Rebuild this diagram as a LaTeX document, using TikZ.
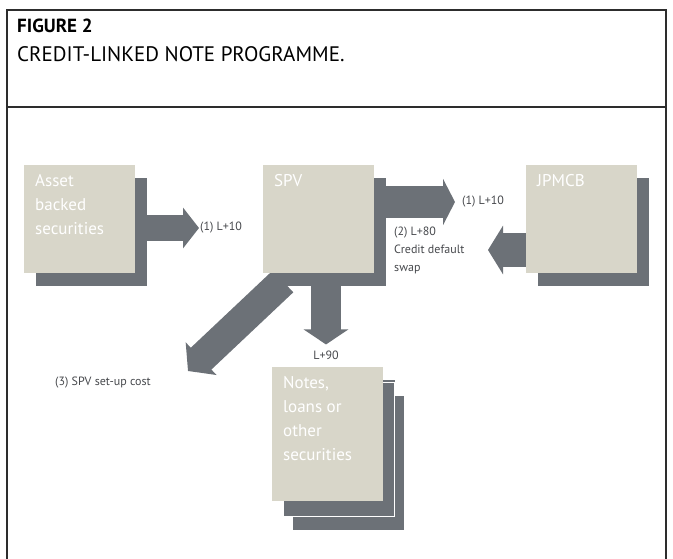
\documentclass[tikz,border=0pt]{standalone}
\usepackage{fontspec}
\setmainfont{PT Sans}
\usetikzlibrary{arrows.meta,shadows,backgrounds}
\definecolor{boxbeige}{RGB}{216,214,201}
\definecolor{arrowgray}{RGB}{108,113,119}
\definecolor{labgray}{RGB}{70,72,76}
\definecolor{framegray}{RGB}{45,45,45}
\tikzset{
  sheet/.style={fill=boxbeige, minimum width=111pt, minimum height=108pt, anchor=north west, inner sep=0pt,
    drop shadow={shadow xshift=12pt, shadow yshift=-13pt, fill=arrowgray, opacity=1}},
  boxtext/.style={anchor=north west, text=white, align=left, font=\fontsize{17}{24}\selectfont, inner xsep=11pt, inner ysep=9pt},
  lab/.style={text=labgray, font=\fontsize{12}{18}\selectfont, inner sep=1pt, align=left},
  fat/.style={draw=arrowgray, line width=#1}
}
\begin{document}
\begin{tikzpicture}[x=1pt,y=-1pt]
\useasboundingbox (0,0) rectangle (673,559);
\draw[framegray, line width=1.4pt] (7,560) -- (7,10) -- (666,10) -- (666,560);
\draw[framegray, line width=1.4pt] (7,107) -- (666,107);
\node[anchor=north west, inner sep=0pt, font=\fontsize{19}{22}\bfseries\selectfont] at (17,19) (fig) {FIGURE 2};
\node[anchor=north west, inner sep=0pt, font=\fontsize{21}{24}\selectfont] at (17,46) (title) {CREDIT-LINKED NOTE PROGRAMME.};

   \node[sheet, label={[boxtext]north west:Asset\\backed\\securities}] at (24,165) (abs) {};
   \node[sheet, label={[boxtext]north west:SPV}] at (263,165) (spv) {};
   \node[sheet, label={[boxtext]north west:JPMCB}] at (526,165) (jp) {};
   \node[sheet, minimum height=134pt,
     drop shadow={shadow xshift=21pt, shadow yshift=-29pt, fill=arrowgray, opacity=1},
     drop shadow={shadow xshift=11pt, shadow yshift=-15pt, fill=arrowgray, draw=white, line width=0.8pt, opacity=1},
     label={[boxtext]north west:Notes,\\loans or\\other\\securities}] at (272,367) (notes) {};

   \node[lab, anchor=west] at (199,228) (lab1) {(1) L+10};
   \node[lab, anchor=west] at (461,202) (lab2) {(1) L+10};
   \node[lab, anchor=north west] at (393,226) (lab3) {(2) L+80\\Credit default\\swap};
   \node[lab] at (326,355) (lab4) {L+90};
   \node[lab, anchor=west] at (54,383) (lab5) {(3) SPV set-up cost};
   \coordinate (swapin) at (488,250);
   \coordinate (costtip) at (188,371);

\begin{scope}[on background layer]
    \draw[fat=26pt, -{Triangle[length=16pt,width=40pt]}] (abs.east |- lab1.west) -- (lab1.west);
    \draw[fat=32pt, -{Triangle[length=12pt,width=46pt]}, shorten >=6pt] (spv.east |- lab2.west) -- (lab2.west);
    \draw[fat=34pt, -{Triangle[length=15pt,width=48pt]}] (jp.west |- swapin) -- (swapin);
    \draw[fat=30pt, -{Triangle[length=15pt,width=44pt]}, shorten >=5pt] (spv.south -| lab4.north) -- (lab4.north);
    \draw[fat=30pt, -{Triangle[length=18pt,width=44pt]}] (spv.south west) ++(20,8) -- (costtip);
\end{scope}
    \end{tikzpicture}
\end{document}
